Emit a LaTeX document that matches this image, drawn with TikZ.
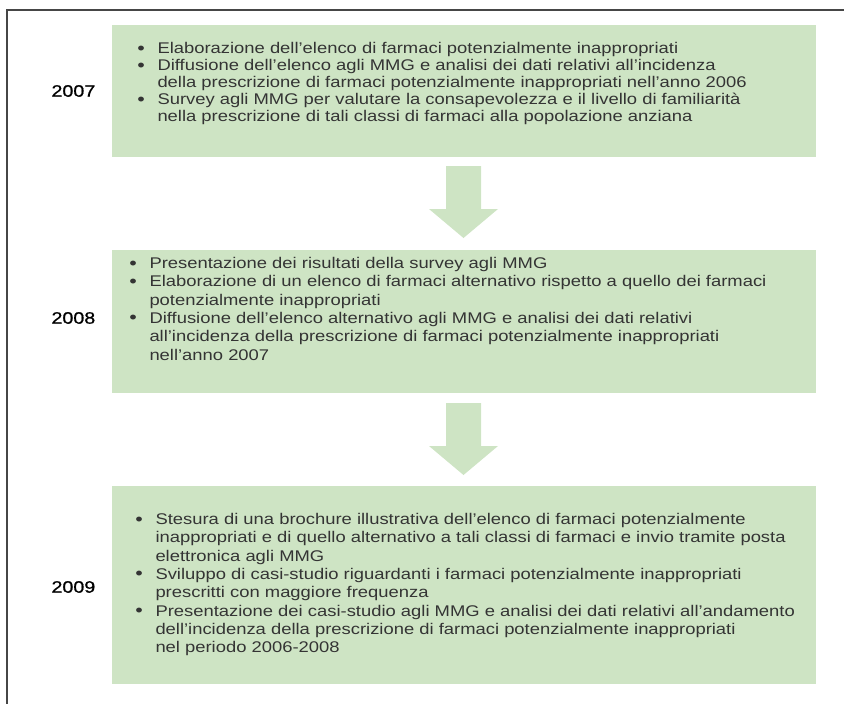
\documentclass[tikz,border=0pt]{standalone}
\usepackage{fontspec}
\setmainfont{Liberation Sans}[FakeStretch=1.19]
\newfontfamily\yearfont{Liberation Sans}[FakeStretch=1.19,FakeBold=0.9]
\definecolor{boxgreen}{RGB}{206,228,196}
\definecolor{framegray}{RGB}{70,70,70}
\definecolor{textgray}{RGB}{52,52,52}
\newcommand{\bul}{\llap{\raisebox{-0.3pt}{\fontsize{13.5}{13.5}\selectfont\textbullet}\hspace{9.5pt}}}

\tikzset{every picture/.style={line width=0.75pt}}

\begin{document}
\begin{tikzpicture}[x=0.75pt,y=0.75pt,yscale=-1,xscale=1,
  boxfill/.style={fill=boxgreen, draw=none},
  listtext/.style={anchor=north west, inner sep=0pt, align=left, text=textgray,
    font=\fontsize{11.6}{12.75}\selectfont},
  wideleading/.style={font=\fontsize{11.6}{13.7}\selectfont},
  yeartext/.style={anchor=west, inner sep=0pt, text=black,
    font=\yearfont\fontsize{12.4}{14}\selectfont}]
\useasboundingbox (0,0) rectangle (844,704);

%Straight Lines [id:frame]
\draw  [line width=1.5, color=framegray]  (7,704) -- (7,10) -- (844,10) ;

%Shape: Rectangle [id:box2007]
\fill  [boxfill]  (112,25) -- (816,25) -- (816,157) -- (112,157) -- cycle ;
%Shape: Rectangle [id:box2008]
\fill  [boxfill]  (112,250) -- (816,250) -- (816,393) -- (112,393) -- cycle ;
%Shape: Rectangle [id:box2009]
\fill  [boxfill]  (112,486) -- (816,486) -- (816,684) -- (112,684) -- cycle ;

%Shape: Down Arrow [id:arrow1]
\fill  [boxfill]  (446,166) -- (481,166) -- (481,209) -- (498,209) -- (463.5,238) -- (429,209) -- (446,209) -- cycle ;
%Shape: Down Arrow [id:arrow2]
\fill  [boxfill]  (446,403) -- (481,403) -- (481,446) -- (498,446) -- (463.5,475) -- (429,446) -- (446,446) -- cycle ;

% Text Node
\draw (51,91) node [yeartext] (y2007) {2007};
% Text Node
\draw (51,318) node [yeartext] (y2008) {2008};
% Text Node
\draw (51,587) node [yeartext] (y2009) {2009};

% Text Node
\draw (157,42) node [listtext] (list2007) {\bul Elaborazione dell’elenco di farmaci potenzialmente inappropriati\\
\bul Diffusione dell’elenco agli MMG e analisi dei dati relativi all’incidenza\\
della prescrizione di farmaci potenzialmente inappropriati nell’anno 2006\\
\bul Survey agli MMG per valutare la consapevolezza e il livello di familiarità\\
nella prescrizione di tali classi di farmaci alla popolazione anziana};
% Text Node
\draw (149,257) node [listtext, wideleading] (list2008) {\bul Presentazione dei risultati della survey agli MMG\\
\bul Elaborazione di un elenco di farmaci alternativo rispetto a quello dei farmaci\\
potenzialmente inappropriati\\
\bul Diffusione dell’elenco alternativo agli MMG e analisi dei dati relativi\\
all’incidenza della prescrizione di farmaci potenzialmente inappropriati\\
nell’anno 2007};
% Text Node
\draw (155,513) node [listtext, wideleading] (list2009) {\bul Stesura di una brochure illustrativa dell’elenco di farmaci potenzialmente\\
inappropriati e di quello alternativo a tali classi di farmaci e invio tramite posta\\
elettronica agli MMG\\
\bul Sviluppo di casi-studio riguardanti i farmaci potenzialmente inappropriati\\
prescritti con maggiore frequenza\\
\bul Presentazione dei casi-studio agli MMG e analisi dei dati relativi all’andamento\\
dell’incidenza della prescrizione di farmaci potenzialmente inappropriati\\
nel periodo 2006-2008};

\end{tikzpicture}
\end{document}
